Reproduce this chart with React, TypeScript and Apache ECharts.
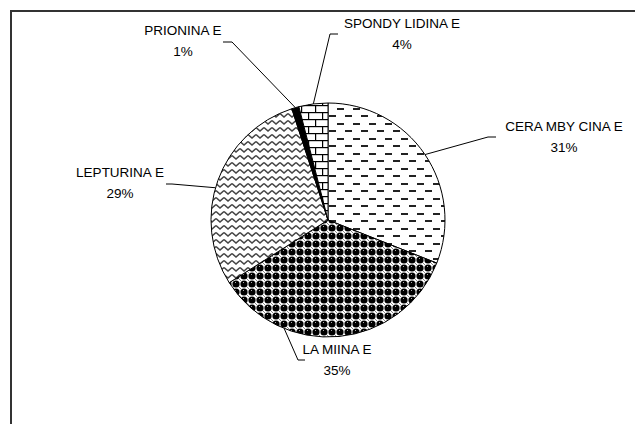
import React, { useEffect, useRef } from "react";
import * as echarts from "echarts";

const categories = ["CERA MBY CINA E", "LA MIINA E", "LEPTURINA E", "PRIONINA E", "SPONDY LIDINA E"];
const percentages = [31, 35, 29, 1, 4];

// label layout (chart pixels)
const labelCenters: number[][] = [[564, 137], [337, 360], [120, 183], [183, 41], [402, 34]];
const lineStartAngles = [56, 202, 286, 343.8, 352.8];
const lineElbows: number[][] = [[488, 137], [298, 360], [172, 184], [232, 42], [330, 34]];
const lineEnds: number[][] = [[496, 137], [305, 360], [166, 184], [223, 42], [338, 34]];

const CX = 328;
const CY = 220;
const R = 117;

function makeTile(w: number, h: number, draw: (ctx: CanvasRenderingContext2D) => void) {
  const c = document.createElement("canvas");
  c.width = w;
  c.height = h;
  const ctx = c.getContext("2d")!;
  ctx.fillStyle = "#fff";
  ctx.fillRect(0, 0, w, h);
  draw(ctx);
  return { image: c.toDataURL(), repeat: "repeat", imageWidth: w, imageHeight: h } as any;
}

function buildPatterns() {
  const dashes = makeTile(16, 15, (ctx) => {
    ctx.fillStyle = "#222";
    ctx.fillRect(1, 3, 7, 2);
    ctx.fillRect(9, 10, 7, 2);
  });
  const spheres = makeTile(8, 8, (ctx) => {
    ctx.fillStyle = "#888";
    ctx.fillRect(0, 0, 1, 1);
    ctx.fillRect(7, 7, 1, 1);
    ctx.fillStyle = "#000";
    ctx.beginPath();
    ctx.arc(4, 4, 3.6, 0, Math.PI * 2);
    ctx.fill();
    ctx.fillStyle = "#aaa";
    ctx.fillRect(3, 2, 1, 1);
  });
  const zigzag = makeTile(8, 7, (ctx) => {
    ctx.strokeStyle = "#444";
    ctx.lineWidth = 1.6;
    ctx.beginPath();
    ctx.moveTo(0, 1.5);
    ctx.lineTo(4, 5);
    ctx.lineTo(8, 1.5);
    ctx.stroke();
  });
  const bricks = makeTile(14, 14, (ctx) => {
    ctx.fillStyle = "#000";
    ctx.fillRect(0, 0, 14, 1.2);
    ctx.fillRect(0, 7, 14, 1.2);
    ctx.fillRect(0, 0, 1.2, 7);
    ctx.fillRect(7, 7, 1.2, 7);
  });
  return [dashes, spheres, zigzag, "#000", bricks];
}

export default function App() {
  const ref = useRef<HTMLDivElement>(null);
  useEffect(() => {
    if (!ref.current) return;
    const chart = echarts.init(ref.current, undefined, { renderer: "svg" });
    const fills = buildPatterns();
    const option: any = {
      animation: false,
      backgroundColor: "#fff",
      graphic: [
        {
          type: "rect",
          shape: { x: 11, y: 11, width: 700, height: 500 },
          style: { fill: "none", stroke: "#333", lineWidth: 2 },
          silent: true,
        },
      ],
      series: [
        {
          type: "pie",
          center: [CX, CY],
          radius: R,
          startAngle: 90,
          clockwise: true,
          silent: true,
          emphasis: { disabled: true },
          itemStyle: { borderColor: "#000", borderWidth: 1 },
          label: {
            show: true,
            position: "outside",
            formatter: "{b}\n{c}%",
            color: "#000",
            fontSize: 13.5,
            lineHeight: 21,
            fontFamily: "Arial, 'Liberation Sans', sans-serif",
            align: "center",
          },
          labelLine: { show: true, lineStyle: { color: "#000", width: 1 } },
          labelLayout: (params: any) => {
            const i = params.dataIndex;
            const a = (lineStartAngles[i] * Math.PI) / 180;
            const start = [CX + R * Math.sin(a), CY - R * Math.cos(a)];
            return {
              x: labelCenters[i][0],
              y: labelCenters[i][1],
              align: "center",
              verticalAlign: "middle",
              labelLinePoints: [start, lineElbows[i], lineEnds[i]],
            };
          },
          data: categories.map((name, i) => ({
            name,
            value: percentages[i],
            itemStyle: { color: fills[i] },
          })),
        },
      ],
    };
    chart.setOption(option);
    return () => chart.dispose();
  }, []);
  return (
    <div
      ref={ref}
      style={{ position: "absolute", left: 0, top: 0, width: 635, height: 424 }}
    />
  );
}
